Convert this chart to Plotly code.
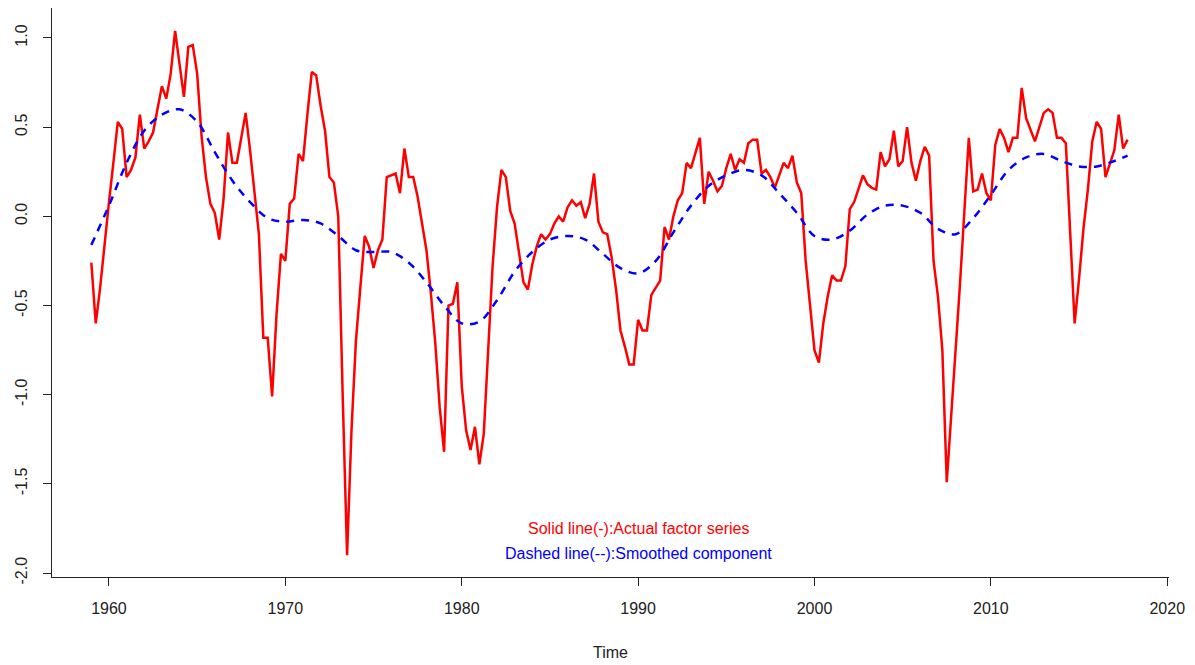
import numpy as np
import plotly.graph_objects as go

# Quarterly series, 1959Q1 - 2017Q4
start_year = 1959
quarters_per_year = 4
actual_factor = [
    -0.26, -0.60, -0.40, -0.15,   # 1959
    0.08, 0.30, 0.53, 0.49,       # 1960
    0.22, 0.26, 0.33, 0.57,       # 1961
    0.38, 0.42, 0.47, 0.60,       # 1962
    0.73, 0.66, 0.80, 1.04,       # 1963
    0.85, 0.67, 0.95, 0.96,       # 1964
    0.80, 0.45, 0.22, 0.07,       # 1965
    0.02, -0.13, 0.10, 0.47,      # 1966
    0.30, 0.30, 0.44, 0.58,       # 1967
    0.37, 0.13, -0.10, -0.68,     # 1968
    -0.68, -1.01, -0.55, -0.21,   # 1969
    -0.25, 0.07, 0.10, 0.35,      # 1970
    0.31, 0.57, 0.81, 0.79,       # 1971
    0.62, 0.48, 0.22, 0.19,       # 1972
    0.00, -1.00, -1.90, -1.20,    # 1973
    -0.70, -0.40, -0.11, -0.17,   # 1974
    -0.29, -0.19, -0.13, 0.22,    # 1975
    0.23, 0.24, 0.13, 0.38,       # 1976
    0.22, 0.22, 0.11, -0.04,      # 1977
    -0.19, -0.43, -0.71, -1.07,   # 1978
    -1.32, -0.50, -0.49, -0.37,   # 1979
    -0.95, -1.20, -1.31, -1.18,   # 1980
    -1.39, -1.22, -0.75, -0.28,   # 1981
    0.05, 0.26, 0.22, 0.03,       # 1982
    -0.04, -0.20, -0.37, -0.41,   # 1983
    -0.27, -0.17, -0.10, -0.13,   # 1984
    -0.10, -0.04, 0.00, -0.03,    # 1985
    0.05, 0.09, 0.06, 0.08,       # 1986
    -0.01, 0.07, 0.24, -0.03,     # 1987
    -0.09, -0.10, -0.23, -0.41,   # 1988
    -0.64, -0.73, -0.83, -0.83,   # 1989
    -0.58, -0.64, -0.64, -0.44,   # 1990
    -0.40, -0.36, -0.06, -0.13,   # 1991
    0.00, 0.09, 0.13, 0.30,       # 1992
    0.27, 0.35, 0.44, 0.07,       # 1993
    0.25, 0.20, 0.14, 0.17,       # 1994
    0.27, 0.35, 0.26, 0.32,       # 1995
    0.30, 0.41, 0.43, 0.43,       # 1996
    0.24, 0.26, 0.22, 0.16,       # 1997
    0.23, 0.30, 0.27, 0.34,       # 1998
    0.19, 0.13, -0.25, -0.51,     # 1999
    -0.75, -0.82, -0.60, -0.45,   # 2000
    -0.33, -0.36, -0.36, -0.28,   # 2001
    0.04, 0.08, 0.15, 0.23,       # 2002
    0.18, 0.16, 0.15, 0.36,       # 2003
    0.28, 0.32, 0.48, 0.28,       # 2004
    0.31, 0.50, 0.30, 0.20,       # 2005
    0.31, 0.39, 0.34, -0.25,      # 2006
    -0.45, -0.75, -1.49, -1.12,   # 2007
    -0.78, -0.38, 0.03, 0.44,     # 2008
    0.14, 0.15, 0.24, 0.13,       # 2009
    0.09, 0.40, 0.49, 0.44,       # 2010
    0.36, 0.44, 0.44, 0.72,       # 2011
    0.55, 0.48, 0.42, 0.50,       # 2012
    0.58, 0.60, 0.58, 0.44,       # 2013
    0.44, 0.41, -0.10, -0.60,     # 2014
    -0.35, -0.07, 0.15, 0.42,     # 2015
    0.53, 0.49, 0.22, 0.29,       # 2016
    0.37, 0.57, 0.38, 0.43,       # 2017
]
actual_time = start_year + np.arange(len(actual_factor)) / quarters_per_year

# Smoothed component, read at the start of each year (plus last quarter)
smooth_time = [1959, 1960, 1961, 1962, 1963, 1964, 1965, 1966, 1967, 1968,
               1969, 1970, 1971, 1972, 1973, 1974, 1975, 1976, 1977, 1978,
               1979, 1980, 1981, 1982, 1983, 1984, 1985, 1986, 1987, 1988,
               1989, 1990, 1991, 1992, 1993, 1994, 1995, 1996, 1997, 1998,
               1999, 2000, 2001, 2002, 2003, 2004, 2005, 2006, 2007, 2008,
               2009, 2010, 2011, 2012, 2013, 2014, 2015, 2016, 2017, 2017.75]
smooth_values = [-0.16, 0.06, 0.30, 0.48, 0.57, 0.60, 0.53, 0.36, 0.20, 0.08,
                 -0.01, -0.03, -0.02, -0.04, -0.11, -0.19, -0.20, -0.20, -0.26, -0.37,
                 -0.50, -0.60, -0.59, -0.47, -0.31, -0.20, -0.13, -0.11, -0.13, -0.21,
                 -0.29, -0.32, -0.25, -0.09, 0.06, 0.17, 0.23, 0.26, 0.23, 0.13,
                 0.02, -0.11, -0.13, -0.08, 0.01, 0.06, 0.06, 0.02, -0.07, -0.10,
                 -0.01, 0.12, 0.26, 0.33, 0.35, 0.31, 0.28, 0.28, 0.31, 0.34]

x_ticks = [1960, 1970, 1980, 1990, 2000, 2010, 2020]
y_ticks = [-2.0, -1.5, -1.0, -0.5, 0.0, 0.5, 1.0]
y_ticktext = ["-2.0", "-1.5", "-1.0", "-0.5", "0.0", "0.5", "1.0"]

label_actual = "Solid line(-):Actual factor series"
label_smooth = "Dashed line(--):Smoothed component"
x_title = "Time"

FONT = "Liberation Sans, Arial, sans-serif"

fig = go.Figure()
fig.add_trace(go.Scatter(
    x=actual_time, y=actual_factor, mode="lines",
    line=dict(color="#FF0000", width=2.5), showlegend=False,
))
fig.add_trace(go.Scatter(
    x=smooth_time, y=smooth_values, mode="lines",
    line=dict(color="#0000FF", width=2.5, dash="8px,7px", shape="spline", smoothing=1.0),
    showlegend=False,
))

fig.add_annotation(x=1990, y=-1.75, xref="x", yref="y", text=label_actual,
                   showarrow=False, font=dict(family=FONT, size=16, color="#FF0000"))
fig.add_annotation(x=1990, y=-1.89, xref="x", yref="y", text=label_smooth,
                   showarrow=False, font=dict(family=FONT, size=16, color="#0000FF"))

axis_common = dict(
    showgrid=False, zeroline=False, showline=True, linecolor="#222222", linewidth=1,
    ticks="outside", ticklen=8, tickwidth=1, tickcolor="#222222",
    tickfont=dict(family=FONT, size=16, color="#222222"),
    mirror=False,
)

fig.update_layout(
    width=1195, height=665,
    margin=dict(l=52, r=26, t=8, b=88),
    paper_bgcolor="white", plot_bgcolor="white",
    font=dict(family=FONT, size=16, color="#222222"),
    xaxis=dict(range=[1956.77, 2020.1], tickvals=x_ticks, ticklabelstandoff=9,
               title=dict(text=x_title, font=dict(family=FONT, size=16, color="#222222"), standoff=30),
               **axis_common),
    yaxis=dict(range=[-2.022, 1.168], tickvals=y_ticks, ticktext=y_ticktext,
               tickangle=-90, ticklabelstandoff=10, **axis_common),
)

fig.write_html("out.html", config={"displayModeBar": False},
               post_script="document.body.style.margin='0';document.body.style.overflow='hidden';")
